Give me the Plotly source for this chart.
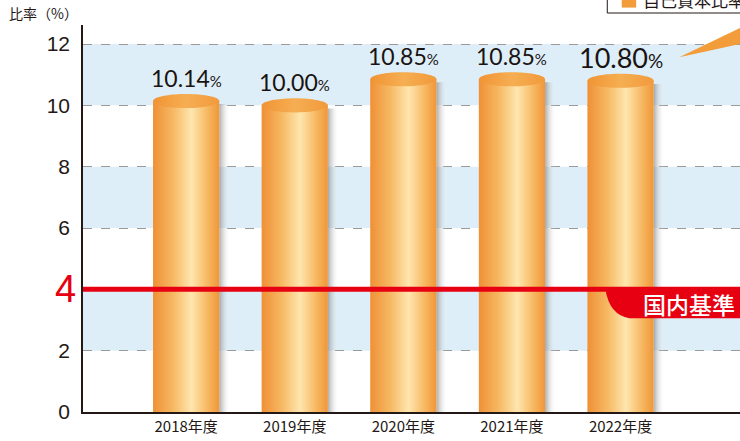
import numpy as np
import plotly.graph_objects as go

# data
years = ["2018年度", "2019年度", "2020年度", "2021年度", "2022年度"]
ratios = [10.14, 10.00, 10.85, 10.85, 10.80]
label_sizes = [23, 23, 23, 23, 27]
y_ticks = [0, 2, 6, 8, 10, 12]
domestic_standard = 4

BAR_W = 0.61
TOP_RY = 0.23
X_RANGE = [-0.95, 5.1]
Y_RANGE = [0, 12.62]

body_grad = [[0, "#ef9036"], [0.3, "#f6b862"], [0.58, "#fee6ae"], [0.85, "#f6b35a"], [1, "#f0963a"]]
top_grad = [[0, "#f09434"], [0.5, "#f6ae52"], [1, "#f19a3c"]]
shadow_grad = [[0, "rgba(120,120,120,0.6)"], [1, "rgba(255,255,255,0)"]]

fig = go.Figure()

t = np.linspace(0, 2 * np.pi, 80)
for i, v in enumerate(ratios):
    x0, x1 = i - BAR_W / 2, i + BAR_W / 2
    # shadow on the right of each cylinder
    fig.add_trace(go.Scatter(
        x=[x1, x1 + 0.1, x1 + 0.1, x1, x1], y=[0, 0, v - 0.1, v - 0.1, 0],
        fill="toself", mode="none", fillgradient=dict(type="horizontal", colorscale=shadow_grad),
        hoverinfo="skip", showlegend=False))
    # cylinder body
    fig.add_trace(go.Scatter(
        x=[x0, x1, x1, x0, x0], y=[0, 0, v, v, 0],
        fill="toself", mode="none", fillgradient=dict(type="horizontal", colorscale=body_grad),
        hoverinfo="skip", showlegend=False))
    # cylinder top ellipse
    fig.add_trace(go.Scatter(
        x=i + BAR_W / 2 * np.cos(t), y=v + TOP_RY * np.sin(t),
        fill="toself", mode="none", fillgradient=dict(type="horizontal", colorscale=top_grad),
        hoverinfo="skip", showlegend=False))
    fig.add_annotation(
        x=i, y=v, yshift=23, showarrow=False,
        text=f"{v:.2f}<span style='font-size:{label_sizes[i] - 8}px'>%</span>",
        font=dict(family="Lato, Liberation Sans", size=label_sizes[i], color="#1a1311"))

# light blue bands
for lo in [2, 6, 10]:
    fig.add_shape(type="rect", xref="x", yref="y", x0=X_RANGE[0], x1=X_RANGE[1], y0=lo, y1=lo + 2,
                  fillcolor="#ddeef8", line_width=0, layer="below")

# domestic standard line
fig.add_shape(type="line", xref="x", yref="y", x0=X_RANGE[0], x1=X_RANGE[1],
              y0=domestic_standard, y1=domestic_standard,
              line=dict(color="#e60012", width=5), layer="above")
fig.add_shape(type="path", xref="x", yref="y", layer="above", fillcolor="#e60012", line_width=0,
              path=f"M 3.86 {domestic_standard} L 5.1 {domestic_standard} L 5.1 3.06 L 4.08 3.06 "
                   f"Q 3.9 3.15 3.86 {domestic_standard} Z")
fig.add_annotation(x=4.63, y=3.52, text="国内基準", showarrow=False,
                   font=dict(family="Noto Sans CJK JP", size=23, color="white", weight=500))
fig.add_annotation(x=X_RANGE[0], xref="x", xanchor="right", xshift=-5, y=domestic_standard,
                   text="4", showarrow=False,
                   font=dict(family="Liberation Sans, Arial", size=38, color="#e60012"))

# legend box (cut off at the top)
fig.add_shape(type="rect", xref="paper", yref="paper", x0=0.798, x1=1.01, y0=1.031, y1=1.12,
              line=dict(color="#231815", width=1), fillcolor="white", layer="above")
fig.add_shape(type="rect", xref="paper", yref="paper", x0=0.820, x1=0.842, y0=1.045, y1=1.075,
              line_width=0, fillcolor="#f39c3a", layer="above")
fig.add_annotation(xref="paper", yref="paper", x=0.850, y=1.028, xanchor="left", yanchor="bottom",
                   text="自己資本比率", showarrow=False,
                   font=dict(family="Noto Sans CJK JP", size=17, color="#231815"))
# callout wedge
fig.add_shape(type="path", xref="x", yref="y", layer="above", fillcolor="#f39c3a", line_width=0,
              path="M 4.54 11.57 L 5.1 12.52 L 5.1 12.0 Z")

fig.add_annotation(xref="paper", yref="paper", x=-0.115, y=1.0, xanchor="left", yanchor="bottom",
                   text="比率（%）", showarrow=False,
                   font=dict(family="Noto Sans CJK JP", size=14, color="#231815"))

fig.update_layout(
    width=740, height=441,
    margin=dict(l=83, r=0, t=25, b=29),
    plot_bgcolor="white", paper_bgcolor="white",
    showlegend=False,
    xaxis=dict(range=X_RANGE, tickvals=list(range(len(years))), ticktext=years,
               showgrid=False, zeroline=False, showline=True, linecolor="#231815", linewidth=1.5,
               ticks="", tickfont=dict(family="Noto Sans CJK JP", size=15, color="#231815")),
    yaxis=dict(range=Y_RANGE, tickvals=y_ticks, showgrid=True, gridcolor="#9a9a9a", griddash="dash",
               gridwidth=1, zeroline=False, showline=True, linecolor="#231815", linewidth=1.5,
               ticks="", ticklabelstandoff=7,
               tickfont=dict(family="Liberation Sans, Arial", size=21, color="#231815")),
)

fig.write_html("out.html", config={"displayModeBar": False},
               post_script="document.body.style.margin='0';")
